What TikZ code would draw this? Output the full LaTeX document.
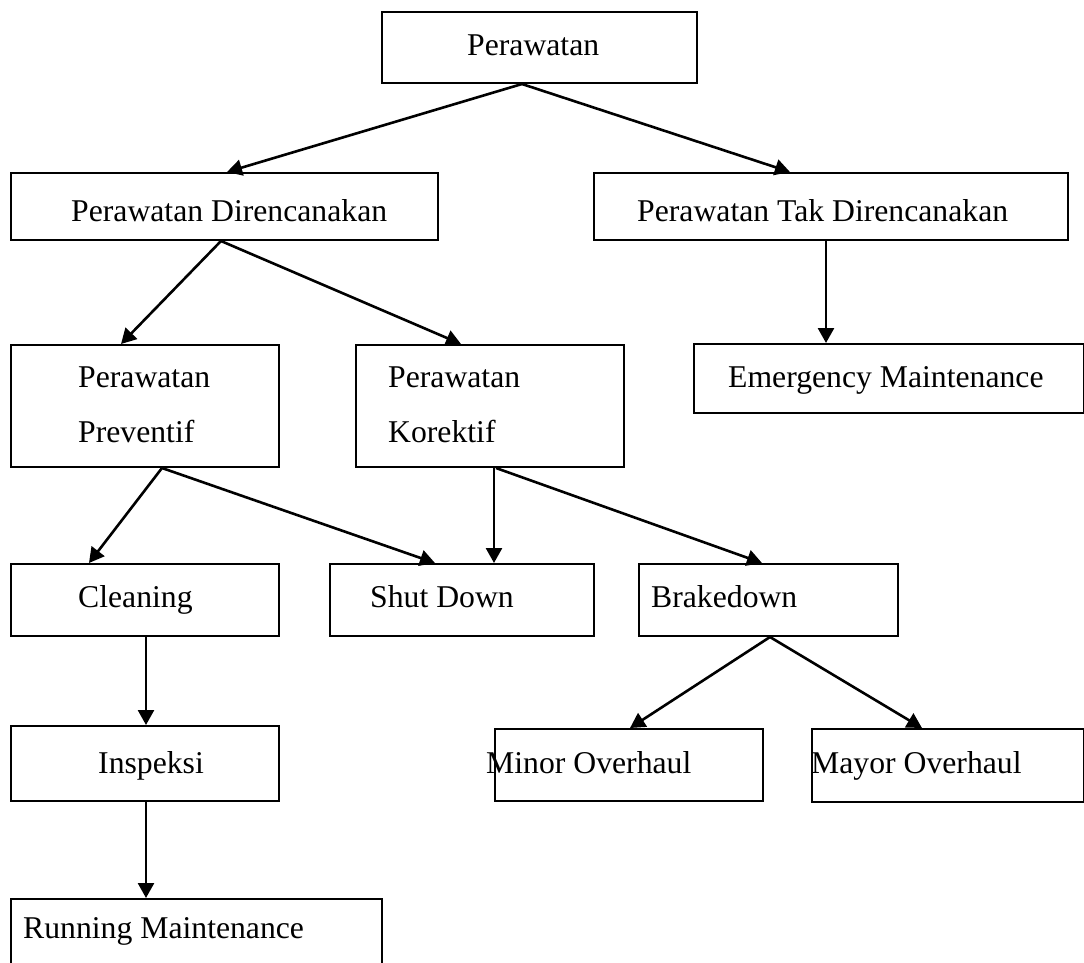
\documentclass[tikz,border=0pt]{standalone}
\usepackage{fontspec}
\setmainfont{Liberation Serif}
\usetikzlibrary{arrows.meta}
\tikzset{
  boxnode/.style={draw=black, line width=2pt, rectangle, inner sep=0pt, anchor=north west},
  txt/.style={anchor=base west, inner sep=0pt, font=\fontsize{31.7}{38}\selectfont},
  arr/.style={line width=2.6pt, -{Triangle[length=15pt,width=16pt]}}
}
\newcommand{\mybox}[5]{\node[boxnode, minimum width=#4pt-#2pt, minimum height=#5pt-#3pt] (#1) at (#2,#3) {};}
\begin{document}
\begin{tikzpicture}[x=1pt,y=-1pt]
\useasboundingbox (0,0) rectangle (1084,962);
\clip (0,0) rectangle (1084,962);
% boxes
\mybox{per}{381}{11}{696}{82}
\mybox{dir}{10}{172}{437}{239}
\mybox{tak}{593}{172}{1067}{239}
\mybox{prev}{10}{344}{278}{466}
\mybox{kor}{355}{344}{623}{466}
\mybox{emg}{693}{343}{1083}{412}
\mybox{cln}{10}{563}{278}{635}
\mybox{shd}{329}{563}{593}{635}
\mybox{brk}{638}{563}{897}{635}
\mybox{ins}{10}{725}{278}{800}
\mybox{min}{494}{728}{762}{800}
\mybox{may}{811}{728}{1083}{801}
\mybox{run}{10}{898}{381}{990}
% texts
\node[txt] (tper) at (467,55) {Perawatan};
\node[txt] (tdir) at (71,221) {Perawatan Direncanakan};
\node[txt] (ttak) at (637,221) {Perawatan Tak Direncanakan};
\node[txt] (tprev1) at (78,387) {Perawatan};
\node[txt] (tprev2) at (78,442) {Preventif};
\node[txt] (tkor1) at (388,387) {Perawatan};
\node[txt] (tkor2) at (388,442) {Korektif};
\node[txt] (temg) at (728,387) {Emergency Maintenance};
\node[txt] (tcln) at (78,607) {Cleaning};
\node[txt] (tshd) at (370,607) {Shut Down};
\node[txt] (tbrk) at (651,607) {Brakedown};
\node[txt] (tins) at (98,773) {Inspeksi};
\node[txt] (tmin) at (486,773) {Minor Overhaul};
\node[txt] (tmay) at (811,773) {Mayor Overhaul};
\node[txt] (trun) at (23,938) {Running Maintenance};
% connectors
\draw[arr] ([xshift=141pt]per.south west) -- ([xshift=217pt]dir.north west);
\draw[arr] ([xshift=141pt]per.south west) -- ([xshift=197pt]tak.north west);
\draw[arr] ([xshift=211pt]dir.south west) -- ([xshift=111pt]prev.north west);
\draw[arr] ([xshift=211pt]dir.south west) -- ([xshift=106pt]kor.north west);
\draw[arr] ([xshift=233pt]tak.south west) -- ([xshift=133pt]emg.north west);
\draw[arr] ([xshift=152pt]prev.south west) -- ([xshift=79pt]cln.north west);
\draw[arr] ([xshift=152pt]prev.south west) -- ([xshift=106pt]shd.north west);
\draw[arr] ([xshift=139pt]kor.south west) -- ([xshift=165pt]shd.north west);
\draw[arr] ([xshift=141pt]kor.south west) -- ([xshift=124pt]brk.north west);
\draw[arr] ([xshift=136pt]cln.south west) -- ([xshift=136pt]ins.north west);
\draw[arr] ([xshift=136pt]ins.south west) -- ([xshift=136pt]run.north west);
\draw[arr] ([xshift=132pt]brk.south west) -- ([xshift=136pt]min.north west);
\draw[arr] ([xshift=132pt]brk.south west) -- ([xshift=111pt]may.north west);
\end{tikzpicture}
\end{document}
